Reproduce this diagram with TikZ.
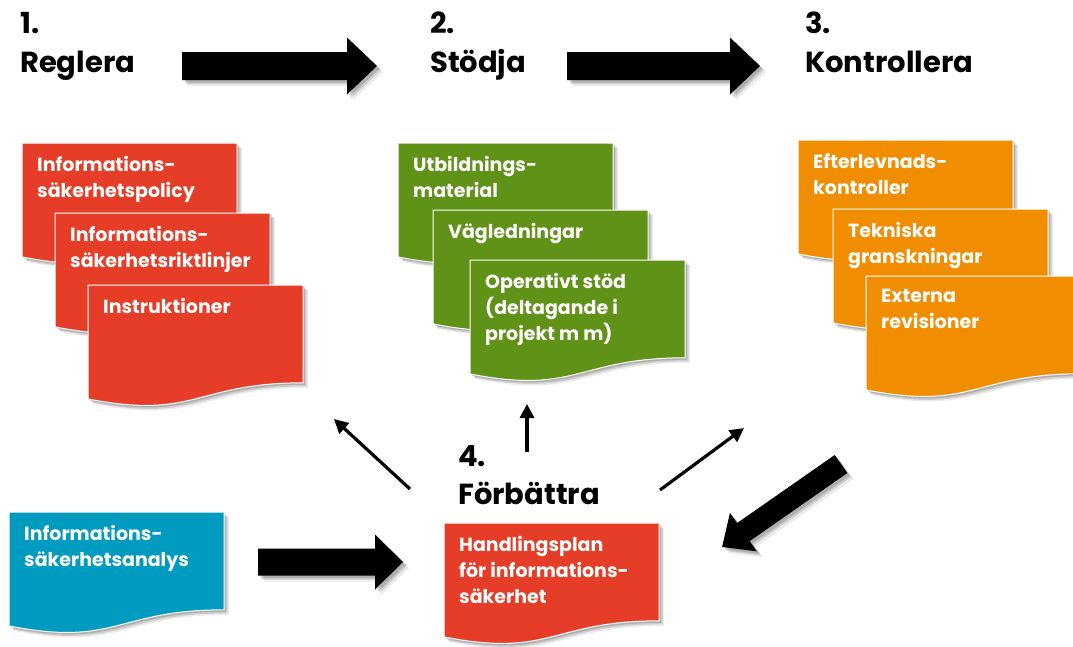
\documentclass[tikz,border=0pt]{standalone}
\usepackage{fontspec}
\setmainfont{Poppins}
\usetikzlibrary{arrows.meta}
\definecolor{docred}{HTML}{E53D27}
\definecolor{docgreen}{HTML}{5F9216}
\definecolor{docorange}{HTML}{F18D00}
\definecolor{docblue}{HTML}{009BBE}
\tikzset{
  doctext/.style={text=white,font=\bfseries\fontsize{19}{26}\selectfont,align=left,inner sep=0pt,anchor=north west},
  titletext/.style={text=black,font=\bfseries\fontsize{29}{35}\selectfont,inner sep=0pt,anchor=base west},
  thinarrow/.style={draw=black,line width=3.2pt,-{Triangle[length=14pt,width=14pt]}},
}
\newcommand\docshape[5]{%
  \begin{scope}[shift={(#2,#3)}]
    \foreach \s/\o in {5/0.08,3.5/0.12,2/0.15}{
      \fill[black,opacity=\o,shift={(\s,\s)}] (0,0) -- (215,0) -- (215,97.8) .. controls (107.5,97.8) and (107.5,135.1) .. (0,113.9) -- cycle;}
    \filldraw[fill=#4,draw=white,line width=1pt] (0,0) -- (215,0) -- (215,97.8) .. controls (107.5,97.8) and (107.5,135.1) .. (0,113.9) -- cycle;
    \node[doctext] (#1) at (15,13) {#5};
  \end{scope}}
% tail x, tail y, angle, L, shaft half, head half, head length
\newcommand\blockarrow[7]{%
  \begin{scope}[shift={(#1,#2)}]
    \foreach \s/\o in {6/0.08,4/0.12,2.5/0.15}{
      \fill[black,opacity=\o,shift={(\s,\s)},rotate=#3] (0,-#5) -- ({#4-#7},-#5) -- ({#4-#7},-#6) -- (#4,0) -- ({#4-#7},#6) -- ({#4-#7},#5) -- (0,#5) -- cycle;}
    \fill[black,rotate=#3] (0,-#5) -- ({#4-#7},-#5) -- ({#4-#7},-#6) -- (#4,0) -- ({#4-#7},#6) -- ({#4-#7},#5) -- (0,#5) -- cycle;
  \end{scope}}
\begin{document}
\begin{tikzpicture}[x=1pt,y=-1pt]
\useasboundingbox (0,0) rectangle (1073,646);
\fill[white] (0,0) rectangle (1073,646);
\clip (0,0) rectangle (1073,646);

% titles
\node[titletext] (n1) at (20,33) {1.};
\node[titletext] (t1) at (20,72) {Reglera};
\node[titletext] (n2) at (430,33) {2.};
\node[titletext] (t2) at (430,72) {Stödja};
\node[titletext] (n3) at (805,33) {3.};
\node[titletext] (t3) at (805,72) {Kontrollera};
\node[titletext] (n4) at (458,466) {4.};
\node[titletext] (t4) at (458,504) {Förbättra};

% big arrows
\coordinate (a1s) at (182,66); \coordinate (a1e) at (377,66);
\coordinate (a2s) at (567,66); \coordinate (a2e) at (760,66);
\blockarrow{182}{66}{0}{195}{14}{28.5}{30}
\blockarrow{567}{66}{0}{193}{14}{28.5}{30}
\blockarrow{258}{562}{0}{145}{13.5}{27.5}{28}
\blockarrow{841}{464}{214.9}{145}{11}{23.5}{26}

% red stack
\docshape{r1}{22}{143}{docred}{Informations-\\säkerhetspolicy}
\docshape{r2}{55}{213}{docred}{Informations-\\säkerhetsriktlinjer}
\docshape{r3}{88}{285}{docred}{Instruktioner}
% green stack
\docshape{g1}{398}{143}{docgreen}{Utbildnings-\\material}
\docshape{g2}{433}{210}{docgreen}{Vägledningar}
\docshape{g3}{470}{260}{docgreen}{Operativt stöd\\(deltagande i\\projekt m m)}
% orange stack
\docshape{o1}{798}{140}{docorange}{Efterlevnads-\\kontroller}
\docshape{o2}{833}{209}{docorange}{Tekniska\\granskningar}
\docshape{o3}{866}{276}{docorange}{Externa\\revisioner}
% bottom
\docshape{b1}{9}{512}{docblue}{Informations-\\säkerhetsanalys}
\docshape{h1}{444}{523}{docred}{Handlingsplan\\för informations-\\säkerhet}

% thin arrows
\coordinate (p1s) at (410,489); \coordinate (p1e) at (334,419);
\coordinate (p2s) at (527,452); \coordinate (p2e) at (527,404);
\coordinate (p3s) at (660,490); \coordinate (p3e) at (744,428);
\draw[thinarrow] (p1s) -- (p1e);
\draw[thinarrow] (p2s) -- (p2e);
\draw[thinarrow] (p3s) -- (p3e);
\end{tikzpicture}
\end{document}
